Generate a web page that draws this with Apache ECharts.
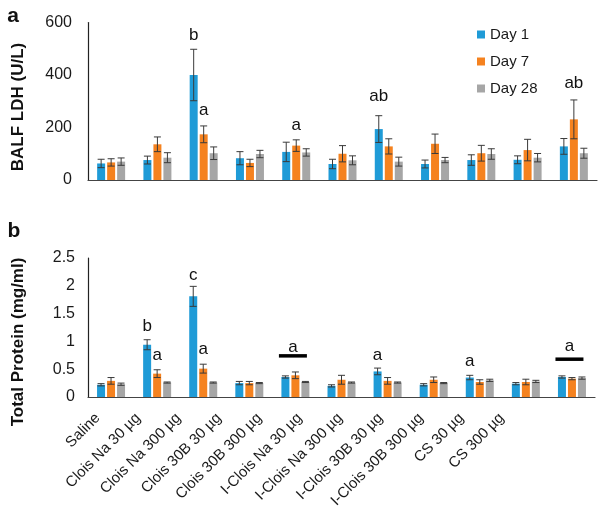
<!DOCTYPE html>
<html><head><meta charset="utf-8">
<script src="https://cdn.jsdelivr.net/npm/echarts@6/dist/echarts.min.js"></script>
<style>html,body{margin:0;padding:0;background:#fff}#c{width:600px;height:521px}</style>
</head><body><div id="c"></div><script>
const categories = ['Saline','Clois Na 30 µg','Clois Na 300 µg','Clois 30B 30 µg','Clois 30B 300 µg','I-Clois Na 30 µg','I-Clois Na 300 µg','I-Clois 30B 30 µg','I-Clois 30B 300 µg','CS 30 µg','CS 300 µg'];
const seriesNames = ['Day 1','Day 7','Day 28'];

const ldhDay1 = [63,76,400,83,107,61,194,61,76,77,128];
const ldhDay1Err = [16,15,98,25,37,18,51,15,20,15,30];
const ldhDay7 = [67,136,174,65,131,100,128,138,102,114,231];
const ldhDay7Err = [14,28,32,14,22,31,29,37,30,41,74];
const ldhDay28 = [70,85,102,99,105,75,70,76,99,85,102];
const ldhDay28Err = [14,19,24,14,14,17,17,10,20,16,19];

const protDay1 = [0.22,0.94,1.81,0.25,0.36,0.20,0.46,0.22,0.35,0.24,0.36];
const protDay1Err = [0.02,0.09,0.18,0.03,0.02,0.02,0.06,0.02,0.04,0.02,0.02];
const protDay7 = [0.29,0.42,0.51,0.25,0.39,0.31,0.29,0.31,0.27,0.27,0.33];
const protDay7Err = [0.06,0.07,0.08,0.03,0.06,0.08,0.06,0.05,0.04,0.05,0.02];
const protDay28 = [0.23,0.26,0.26,0.25,0.27,0.26,0.26,0.25,0.30,0.28,0.34];
const protDay28Err = [0.02,0.01,0.01,0.01,0.01,0.01,0.01,0.01,0.02,0.02,0.02];

const ldhTicks = {min:0, max:600, interval:200};
const protTicks = {min:0, max:2.5, interval:0.5};

// [category index, day index, y value of letter, letter]
const ldhLetters = [[2,0,552,'b'],[2,1,267,'a'],[4,1,210,'a'],[6,0,317,'ab'],[10,1,369,'ab']];
const protLetters = [[1,0,1.28,'b'],[1,1,0.755,'a'],[2,0,2.19,'c'],[2,1,0.85,'a'],[6,0,0.755,'a'],[8,0,0.635,'a']];
// [category index, letter y value, bar y value, letter]
const protBrackets = [[4,0.90,0.74,'a'],[10,0.905,0.68,'a']];

const colors = ['#1f9bd7','#f5821f','#a6a6a6'];
const FONT = "'Liberation Sans', Arial, sans-serif";
const BAR_W = 8, OFFS = [-10,0,10];

const chart = echarts.init(document.getElementById('c'), null, {renderer:'canvas'});

function errSeries(vals, errs, day, gi){
  return {
    type:'custom', xAxisIndex:gi, yAxisIndex:gi, z:5, silent:true,
    data: vals.map((v,i)=>[i,v,errs[i]]),
    renderItem:function(params, api){
      const x = api.coord([api.value(0), api.value(1)])[0] + OFFS[day];
      const hi = api.coord([api.value(0), api.value(1)+api.value(2)])[1];
      const lo = api.coord([api.value(0), api.value(1)-api.value(2)])[1];
      const w = 3.5, st = {stroke:'#3a3a3a', lineWidth:1};
      return {type:'group', children:[
        {type:'line', shape:{x1:x,y1:hi,x2:x,y2:lo}, style:st},
        {type:'line', shape:{x1:x-w,y1:hi,x2:x+w,y2:hi}, style:st},
        {type:'line', shape:{x1:x-w,y1:lo,x2:x+w,y2:lo}, style:st}
      ]};
    }
  };
}
function letterSeries(list, gi){
  return {
    type:'custom', xAxisIndex:gi, yAxisIndex:gi, z:6, silent:true,
    data: list.map(d=>[d[0], d[2]]),
    renderItem:function(params, api){
      const d = list[params.dataIndex];
      const p = api.coord([api.value(0), api.value(1)]);
      return {type:'text', x:p[0]+OFFS[d[1]], y:p[1],
        style:{text:d[3], fontSize:17, fontFamily:FONT, fill:'#111', align:'center', verticalAlign:'middle'}};
    }
  };
}
function bracketSeries(list, gi){
  return {
    type:'custom', xAxisIndex:gi, yAxisIndex:gi, z:6, silent:true,
    data: list.map(d=>[d[0], d[1], d[2]]),
    renderItem:function(params, api){
      const d = list[params.dataIndex];
      const p = api.coord([api.value(0), api.value(1)]);
      const ly = api.coord([api.value(0), api.value(2)])[1];
      const cx = p[0]-2.5, hw = 14;
      return {type:'group', children:[
        {type:'text', x:cx, y:p[1], style:{text:d[3], fontSize:17, fontFamily:FONT, fill:'#111', align:'center', verticalAlign:'middle'}},
        {type:'rect', shape:{x:cx-hw, y:ly-1.75, width:hw*2, height:3.5}, style:{fill:'#000'}}
      ]};
    }
  };
}
function barSeries(vals, day, gi){
  return {type:'bar', name:seriesNames[day], xAxisIndex:gi, yAxisIndex:gi, data:vals,
    barWidth:BAR_W, barGap:'25%', itemStyle:{color:colors[day]}};
}

const axisLbl = {color:'#1a1a1a', fontSize:16, fontFamily:FONT};
const option = {
  animation:false,
  color:colors,
  textStyle:{fontFamily:FONT},
  legend:{data:seriesNames, orient:'vertical', left:477, top:27, padding:0, itemWidth:8, itemHeight:8, itemGap:12,
    icon:'rect', textStyle:{fontSize:15, color:'#1a1a1a', fontFamily:FONT}},
  grid:[
    {left:88, right:3, top:22.5, height:157.5},
    {left:88, right:5, top:258, height:139},
    {left:90.3, width:444.4, top:258, height:139}
  ],
  xAxis:[
    {type:'category', gridIndex:0, data:categories, axisLine:{lineStyle:{color:'#444', width:1.2}}, axisTick:{show:false}, axisLabel:{show:false}},
    {type:'category', gridIndex:1, data:categories, axisLine:{lineStyle:{color:'#444', width:1.2}}, axisTick:{show:false}, axisLabel:{show:false}},
    {type:'category', gridIndex:2, data:categories, axisLine:{show:false}, axisTick:{show:false},
      axisLabel:{rotate:45, interval:0, fontSize:15, color:'#1a1a1a', fontFamily:FONT, margin:6, padding:[0,18,0,0]}}
  ],
  yAxis:[
    {type:'value', gridIndex:0, min:ldhTicks.min, max:ldhTicks.max, interval:ldhTicks.interval,
      axisLine:{show:true, lineStyle:{color:'#222', width:1.2}}, axisTick:{show:false}, splitLine:{show:false}, axisLabel:Object.assign({margin:16}, axisLbl)},
    {type:'value', gridIndex:1, min:protTicks.min, max:protTicks.max, interval:protTicks.interval,
      axisLine:{show:true, lineStyle:{color:'#222', width:1.2}}, axisTick:{show:false}, splitLine:{show:false}, axisLabel:Object.assign({margin:13}, axisLbl)},
    {type:'value', gridIndex:2, show:false, min:0, max:1}
  ],
  graphic:[
    {type:'text', x:13, y:16, style:{text:'a', fontSize:21, fontWeight:'bold', fontFamily:FONT, fill:'#111', align:'center', verticalAlign:'middle'}},
    {type:'text', x:14, y:231, style:{text:'b', fontSize:21, fontWeight:'bold', fontFamily:FONT, fill:'#111', align:'center', verticalAlign:'middle'}},
    {type:'text', x:18, y:107, rotation:Math.PI/2, style:{text:'BALF LDH (U/L)', fontSize:17, fontWeight:'bold', fontFamily:FONT, fill:'#111', align:'center', verticalAlign:'middle'}},
    {type:'text', x:18, y:342, rotation:Math.PI/2, style:{text:'Total Protein (mg/ml)', fontSize:17, fontWeight:'bold', fontFamily:FONT, fill:'#111', align:'center', verticalAlign:'middle'}}
  ],
  series:[
    barSeries(ldhDay1,0,0), barSeries(ldhDay7,1,0), barSeries(ldhDay28,2,0),
    barSeries(protDay1,0,1), barSeries(protDay7,1,1), barSeries(protDay28,2,1),
    errSeries(ldhDay1,ldhDay1Err,0,0), errSeries(ldhDay7,ldhDay7Err,1,0), errSeries(ldhDay28,ldhDay28Err,2,0),
    errSeries(protDay1,protDay1Err,0,1), errSeries(protDay7,protDay7Err,1,1), errSeries(protDay28,protDay28Err,2,1),
    letterSeries(ldhLetters,0), letterSeries(protLetters,1), bracketSeries(protBrackets,1)
  ]
};
chart.setOption(option);
</script></body></html>
